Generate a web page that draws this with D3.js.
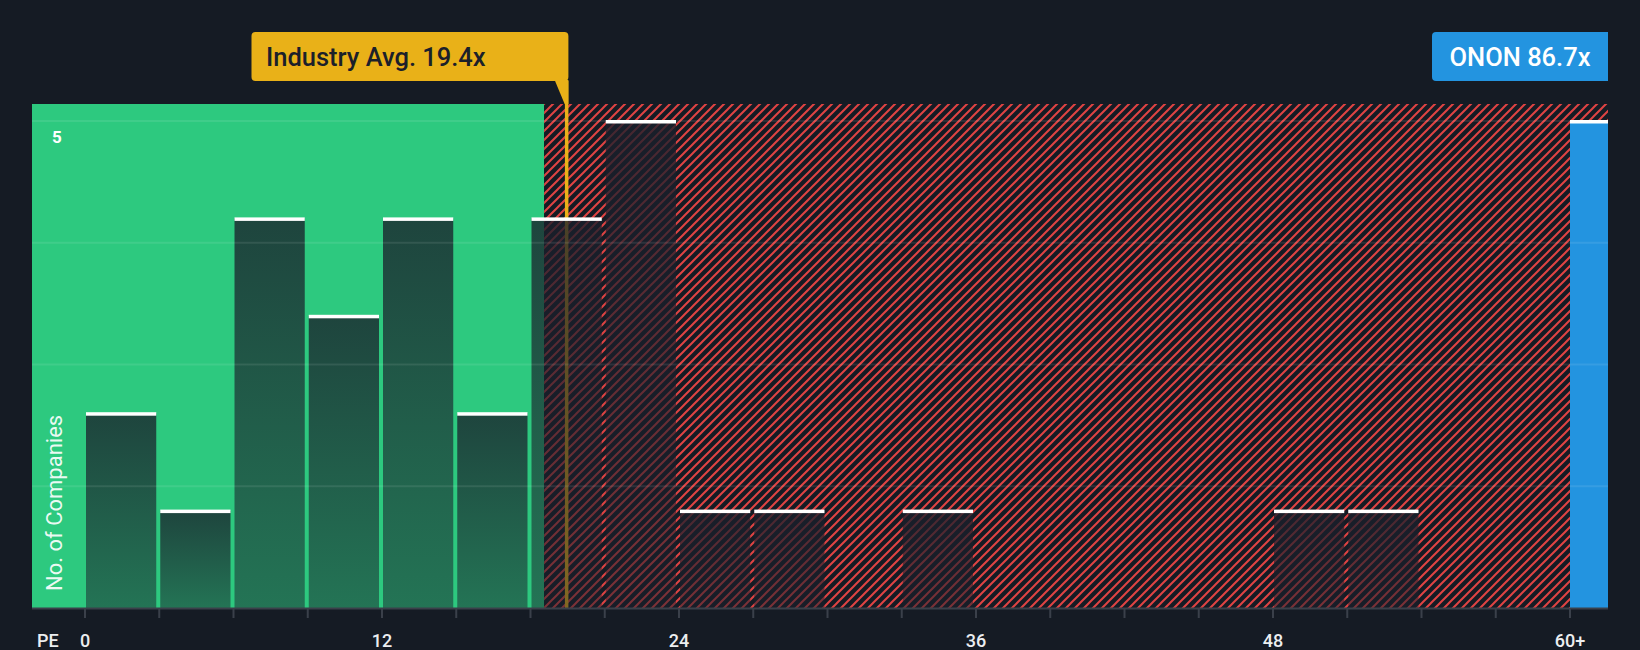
<!DOCTYPE html>
<html><head><meta charset="utf-8">
<script src="https://cdn.jsdelivr.net/npm/d3@7"></script>
<style>html,body{margin:0;padding:0;background:#151b24;}svg{display:block;}</style>
</head><body>
<svg id="chart" width="1640" height="650"></svg>
<script>
// ---- data ----
const binStarts = [0,3,6,9,12,15,18,21,24,27,30,33,36,39,42,45,48,51,54,57];
const binCounts = [2,1,4,3,4,2,4,5,1,1,0,1,0,0,0,0,1,1,0,0];
const overflowLabel = "60+";
const overflowCount = 5;
const binSize = 3;
const tickValues = [0,12,24,36,48,60];
const tickLabels = ["0","12","24","36","48","60+"];
const gridValues = [1.25,2.5,3.75,5];
const yLabelValue = 5;
const industryAvg = 19.4;
const fairBoundary = 18.55;
const industryText = "Industry Avg. 19.4x";
const companyText = "ONON 86.7x";

// ---- layout ----
const svg = d3.select("#chart");
const plotLeft = 32, plotRight = 1608, plotTop = 104, axisY = 608;
const x = d3.scaleLinear().domain([0,60]).range([85,1570]);
const y = d3.scaleLinear().domain([0,5]).range([axisY,121]);

const defs = svg.append("defs");
const P = 9;
const pat = defs.append("pattern").attr("id","hatch").attr("patternUnits","userSpaceOnUse")
  .attr("width",P).attr("height",P);
pat.append("rect").attr("width",P).attr("height",P).attr("fill","#151b24");
pat.append("path").attr("d",`M-2,${P+2} L${P+2},-2 M-2,2 L2,-2 M${P-2},${P+2} L${P+2},${P-2}`)
  .attr("stroke","#e04343").attr("stroke-width",2);
const grad = defs.append("linearGradient").attr("id","barGrad").attr("x1",0).attr("y1",0).attr("x2",0).attr("y2",1);
grad.append("stop").attr("offset","0%").attr("stop-color","#1a1f2b").attr("stop-opacity",0.78);
grad.append("stop").attr("offset","100%").attr("stop-color","#1a1f2b").attr("stop-opacity",0.5);

// bands
const xb = x(fairBoundary);
svg.append("rect").attr("x",plotLeft).attr("y",plotTop).attr("width",xb-plotLeft).attr("height",axisY-plotTop).attr("fill","#2dc97f");
svg.append("rect").attr("x",xb).attr("y",plotTop).attr("width",plotRight-xb).attr("height",axisY-plotTop).attr("fill","url(#hatch)");

// industry line (beneath bars)
const xi = x(industryAvg)+1.5;
svg.append("rect").attr("x",xi-1.75).attr("y",81).attr("width",3.5).attr("height",axisY-81).attr("fill","#e9b118");

// bars
const bins = binStarts.map((s,i)=>({lo:s,hi:s+binSize,c:binCounts[i]})).filter(d=>d.c>0);
svg.append("g").selectAll("rect").data(bins).join("rect")
  .attr("x",d=>x(d.lo)+1).attr("width",d=>x(d.hi)-x(d.lo)-4)
  .attr("y",d=>y(d.c)).attr("height",d=>axisY-y(d.c)).attr("fill","url(#barGrad)");
svg.append("g").selectAll("rect").data(bins).join("rect")
  .attr("x",d=>x(d.lo)+1).attr("width",d=>x(d.hi)-x(d.lo)-4)
  .attr("y",d=>y(d.c)-1).attr("height",3.5).attr("fill","#ffffff");

// company overflow bar
svg.append("rect").attr("x",x(60)).attr("width",plotRight-x(60))
  .attr("y",y(overflowCount)).attr("height",axisY-y(overflowCount)).attr("fill","#2394e0");
svg.append("rect").attr("x",x(60)).attr("width",plotRight-x(60))
  .attr("y",y(overflowCount)-1).attr("height",3.5).attr("fill","#ffffff");

// gridlines
svg.append("g").selectAll("line").data(gridValues).join("line")
  .attr("x1",plotLeft).attr("x2",plotRight).attr("y1",d=>y(d)).attr("y2",d=>y(d))
  .attr("stroke","#ffffff").attr("stroke-opacity",0.09).attr("stroke-width",2);

// axis
const axisTicks = d3.range(0,61,binSize);
svg.append("line").attr("x1",plotLeft).attr("x2",plotRight).attr("y1",axisY+0.5).attr("y2",axisY+0.5)
  .attr("stroke","#3a404a").attr("stroke-width",2);
svg.append("g").selectAll("line").data(axisTicks).join("line")
  .attr("x1",d=>x(d)).attr("x2",d=>x(d)).attr("y1",axisY).attr("y2",axisY+10)
  .attr("stroke","#3a404a").attr("stroke-width",2);
svg.append("g").selectAll("text").data(tickValues).join("text")
  .attr("x",d=>x(d)).attr("y",647).attr("text-anchor","middle")
  .attr("font-family","Roboto").attr("font-weight",500).attr("font-size",18).attr("fill","#eceef0")
  .text((d,i)=>tickLabels[i]);
svg.append("text").attr("x",37).attr("y",647).attr("font-family","Roboto").attr("font-weight",500)
  .attr("font-size",18).attr("fill","#eceef0").text("PE");

// y labels
svg.append("text").attr("x",52).attr("y",143).attr("font-family","Roboto").attr("font-weight",700)
  .attr("font-size",17).attr("fill","#ffffff").text(String(yLabelValue));
svg.append("text").attr("transform","translate(62,591) rotate(-90)")
  .attr("font-family","Roboto").attr("font-size",22).attr("fill","#ffffff").attr("fill-opacity",0.92)
  .text("No. of Companies");

// industry label
svg.append("rect").attr("x",251.5).attr("y",32).attr("width",xi+1.75-251.5).attr("height",49).attr("rx",4).attr("fill","#e9b118");
svg.append("path").attr("d",`M${xi-12},80 L${xi+1.75},80 L${xi+1.75},${plotTop} L${xi-2},${plotTop} Z`).attr("fill","#e9b118");
svg.append("text").attr("x",266).attr("y",66).attr("font-family","Roboto").attr("font-weight",500)
  .attr("font-size",25.5).attr("fill","#1b202a").text(industryText);

// company label
svg.append("rect").attr("x",1432).attr("y",32).attr("width",plotRight-1432).attr("height",49).attr("rx",4).attr("fill","#2394e0");
svg.append("rect").attr("x",plotRight-6).attr("y",32).attr("width",6).attr("height",49).attr("fill","#2394e0");
svg.append("text").attr("x",1520).attr("y",66).attr("text-anchor","middle").attr("font-family","Roboto").attr("font-weight",500)
  .attr("font-size",25.5).attr("fill","#ffffff").text(companyText);
</script>
</body></html>
